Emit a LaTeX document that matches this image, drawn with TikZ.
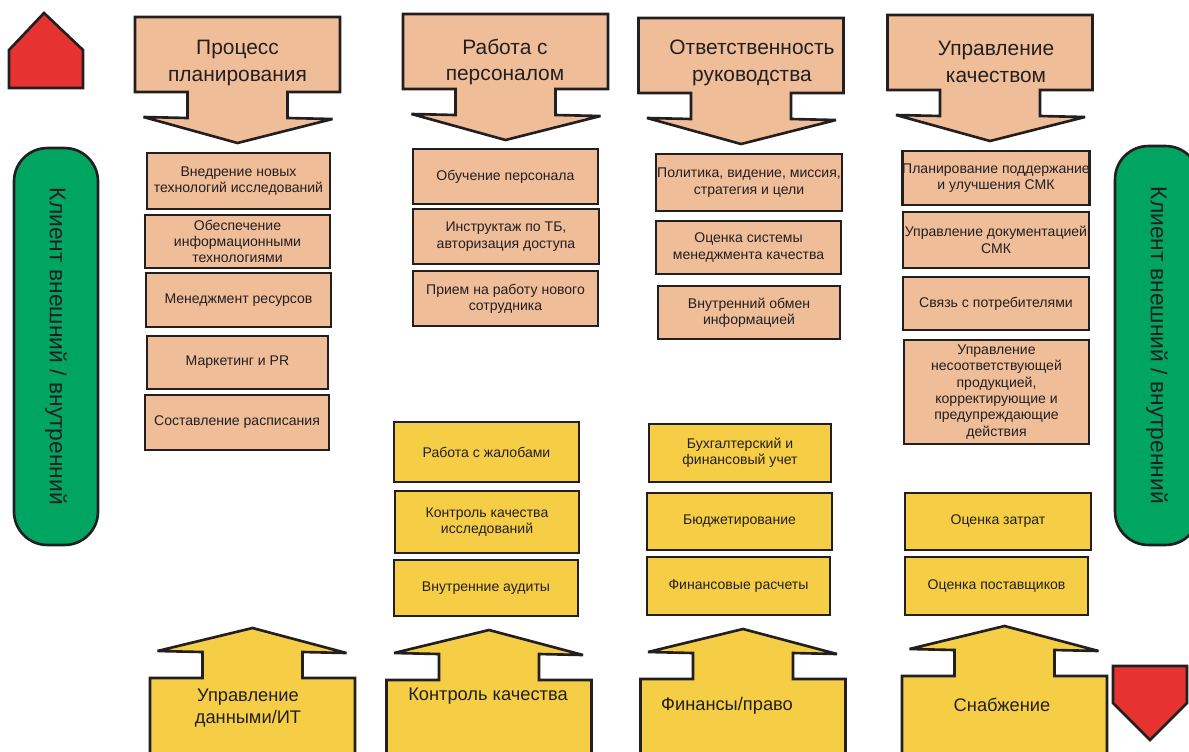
\documentclass[tikz,border=0pt]{standalone}
\usepackage{fontspec}
\setmainfont{Liberation Sans}
\usetikzlibrary{positioning}

\definecolor{peach}{RGB}{239,190,153}
\definecolor{gold}{RGB}{246,206,69}
\definecolor{leaf}{RGB}{0,165,97}
\definecolor{alarm}{RGB}{230,51,50}
\definecolor{ink}{RGB}{35,31,32}

\tikzset{
  task/.style={draw=ink, text=ink, align=center, inner sep=0pt, line width=1.6pt,
    font=\fontsize{8}{9.3}\selectfont},
  corebox/.style={task, fill=peach},
  supportbox/.style={task, fill=gold},
  corearrow/.style={draw=ink, fill=peach, line width=1.5pt, miter limit=4},
  supportarrow/.style={draw=ink, fill=gold, line width=1.5pt, miter limit=4},
  headtext/.style={text=ink, align=center, font=\fontsize{11.9}{15.3}\selectfont},
  foottext/.style={text=ink, align=center, font=\fontsize{10.4}{12.6}\selectfont},
  clientbar/.style={draw=ink, fill=leaf, text=ink, line width=1.5pt, rounded corners=19pt,
    inner sep=0pt, font=\fontsize{13}{15}\selectfont},
  marker/.style={draw=ink, fill=alarm, line width=1.5pt}
}

\begin{document}
\begin{tikzpicture}[x=0.02cm, y=-0.02cm]
    \useasboundingbox (0,0) rectangle (1189,751);
    \clip (0,0) rectangle (1189,751);

    % Draw corner markers
    \draw[marker] (9,88) -- (9,50) -- (44,13) -- (83,50) -- (83,88) -- cycle;
    \draw[marker] (1113,666) -- (1187,666) -- (1187,703) -- (1150,740) -- (1113,703) -- cycle;

    % Draw client bars
    \node[clientbar, rotate=-90, minimum width=7.94cm, minimum height=1.68cm] (clientL) at (56,346.5) {Клиент внешний / внутренний};
    \node[clientbar, rotate=-90, minimum width=7.98cm, minimum height=1.68cm] (clientR) at (1157,345.5) {Клиент внешний / внутренний};

    % Draw top process arrows
    \foreach \c/\t in {237.5/17, 505.5/14, 741/18, 990/15} {
      \draw[corearrow] (\c-102.5,\t) -- (\c+102.5,\t) -- (\c+102.5,\t+75) -- (\c+50,\t+75) -- (\c+50,\t+101)
        -- (\c+95,\t+102) -- (\c,\t+126) -- (\c-94,\t+100) -- (\c-50,\t+101) -- (\c-50,\t+75) -- (\c-102.5,\t+75) -- cycle;
    }
    \node[headtext] (plan) at (237.5,63) {Процесс\\планирования};
    \node[headtext] (staff) at (505,62) {Работа с\\персоналом};
    \node[headtext] (lead) at (752,63) {Ответственность\\руководства};
    \node[headtext] (qual) at (996,61.5) {Управление\\качеством};

    % Draw bottom support arrows
    \foreach \c/\t in {252.5/678, 489/680, 743/679, 1004.5/676} {
      \draw[supportarrow] (\c-102.5,770) -- (\c-102.5,\t) -- (\c-50,\t) -- (\c-50,\t-26) -- (\c-95,\t-27)
        -- (\c,\t-50) -- (\c+94,\t-25) -- (\c+50,\t-26) -- (\c+50,\t) -- (\c+102.5,\t) -- (\c+102.5,770);
    }
    \node[foottext] (data) at (248,708) {Управление\\данными/ИТ};
    \node[foottext] (control) at (488,696) {Контроль качества};
    \node[foottext] (finance) at (727,706) {Финансы/право};
    \node[foottext] (supply) at (1002,705) {Снабжение};

    % Core process boxes
    \foreach \n/\x/\y/\w/\h/\txt in {
      plan1/238.5/181/183/56/{Внедрение новых\\технологий исследований},
      plan2/237.5/241.5/185/53/{Обеспечение\\информационными\\технологиями},
      plan3/238.5/300/185/54/{Менеджмент ресурсов},
      plan4/237.5/362.5/181/53/{Маркетинг и PR},
      plan5/237/422.5/184/55/{Составление расписания},
      staff1/505.5/176.5/185/55/{Обучение персонала},
      staff2/506/236.5/186/55/{Инструктаж по ТБ,\\авторизация доступа},
      staff3/505.5/298.5/185/55/{Прием на работу нового\\сотрудника},
      lead1/749/182.5/186/57/{Политика, видение, миссия,\\стратегия и цели},
      lead2/748.5/247.5/185/53/{Оценка системы\\менеджмента качества},
      lead3/749/312.5/182/53/{Внутренний обмен\\информацией},
      qual1/996/178/186/54/{Планирование поддержание\\и улучшения СМК},
      qual2/996/240/186/56/{Управление документацией\\СМК},
      qual3/996/303.5/186/53/{Связь с потребителями},
      qual4/996.5/392/185/104/{Управление\\несоответствующей\\продукцией,\\корректирующие и\\предупреждающие\\действия}} {
      \node[corebox, minimum width=\w*0.02cm, minimum height=\h*0.02cm] (\n) at (\x,\y) {\txt};
    }

    % Support process boxes
    \foreach \n/\x/\y/\w/\h/\txt in {
      control1/486.5/452/185/60/{Работа с жалобами},
      control2/487/522/184/62/{Контроль качества\\исследований},
      control3/486/588/184/56/{Внутренние аудиты},
      finance1/740/453/182/58/{Бухгалтерский и\\финансовый учет},
      finance2/739.5/521.5/185/57/{Бюджетирование},
      finance3/738.5/586/183/58/{Финансовые расчеты},
      supply1/998/521.5/186/57/{Оценка затрат},
      supply2/996.5/586/183/58/{Оценка поставщиков}} {
      \node[supportbox, minimum width=\w*0.02cm, minimum height=\h*0.02cm] (\n) at (\x,\y) {\txt};
    }
\end{tikzpicture}
\end{document}
